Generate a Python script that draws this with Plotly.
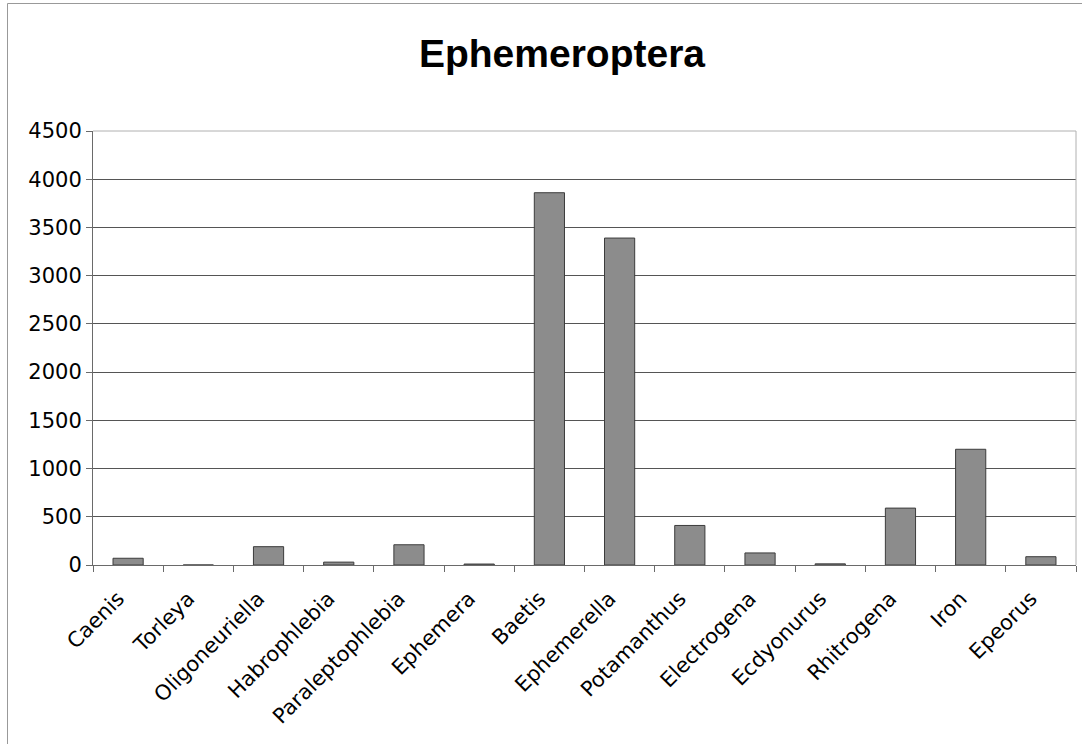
import plotly.graph_objects as go

# Ephemeroptera taxa and their counts
taxa = ["Caenis", "Torleya", "Oligoneuriella", "Habrophlebia", "Paraleptophlebia",
        "Ephemera", "Baetis", "Ephemerella", "Potamanthus", "Electrogena",
        "Ecdyonurus", "Rhitrogena", "Iron", "Epeorus"]
counts = [70, 0, 190, 30, 210, 10, 3860, 3390, 410, 125, 12, 590, 1200, 86]

y_ticks = [0, 500, 1000, 1500, 2000, 2500, 3000, 3500, 4000, 4500]

fig = go.Figure(
    go.Bar(
        x=taxa,
        y=counts,
        marker=dict(color="#8c8c8c", line=dict(color="#3c3c3c", width=1)),
        hoverinfo="x+y",
    )
)

fig.update_layout(
    width=1082,
    height=744,
    margin=dict(l=93, r=6, t=131, b=179),
    paper_bgcolor="white",
    plot_bgcolor="white",
    bargap=0.57,
    showlegend=False,
    title=dict(
        text="<b>Ephemeroptera</b>",
        x=0.5194,
        xanchor="center",
        y=0.928,
        yanchor="middle",
        font=dict(family="Liberation Sans, Arial, sans-serif", size=39, color="black"),
    ),
    font=dict(family="DejaVu Sans, Verdana, sans-serif", color="black"),
    xaxis=dict(
        tickangle=-45,
        tickfont=dict(size=21),
        ticklabelshift=-10,
        ticklabelstandoff=12,
        showgrid=False,
        showline=True,
        linecolor="#6a6a6a",
        linewidth=1,
        ticks="outside",
        ticklen=6,
        tickcolor="#6a6a6a",
        tickson="boundaries",
        range=[-0.5, len(taxa) - 0.5],
    ),
    yaxis=dict(
        range=[0, 4500],
        tickvals=y_ticks,
        tickfont=dict(size=21),
        showgrid=True,
        gridcolor="#555555",
        gridwidth=1,
        showline=True,
        linecolor="#6a6a6a",
        linewidth=1,
        ticks="outside",
        ticklen=6,
        tickcolor="#6a6a6a",
        zeroline=False,
    ),
    shapes=[
        # light top and right edges of the plot area
        dict(type="line", xref="paper", yref="paper", x0=0, x1=1, y0=1, y1=1,
             line=dict(color="#b0b0b0", width=1)),
        dict(type="line", xref="paper", yref="paper", x0=1, x1=1, y0=0, y1=1,
             line=dict(color="#b0b0b0", width=1)),
        # outer chart frame
        dict(type="rect", xref="paper", yref="paper",
             x0=(7.5 - 93) / 983, x1=(1090 - 93) / 983,
             y0=-0.5, y1=(565 - 3.5) / 434,
             line=dict(color="#999999", width=1), fillcolor="rgba(0,0,0,0)",
             layer="below"),
    ],
)

fig.write_html("out.html")
